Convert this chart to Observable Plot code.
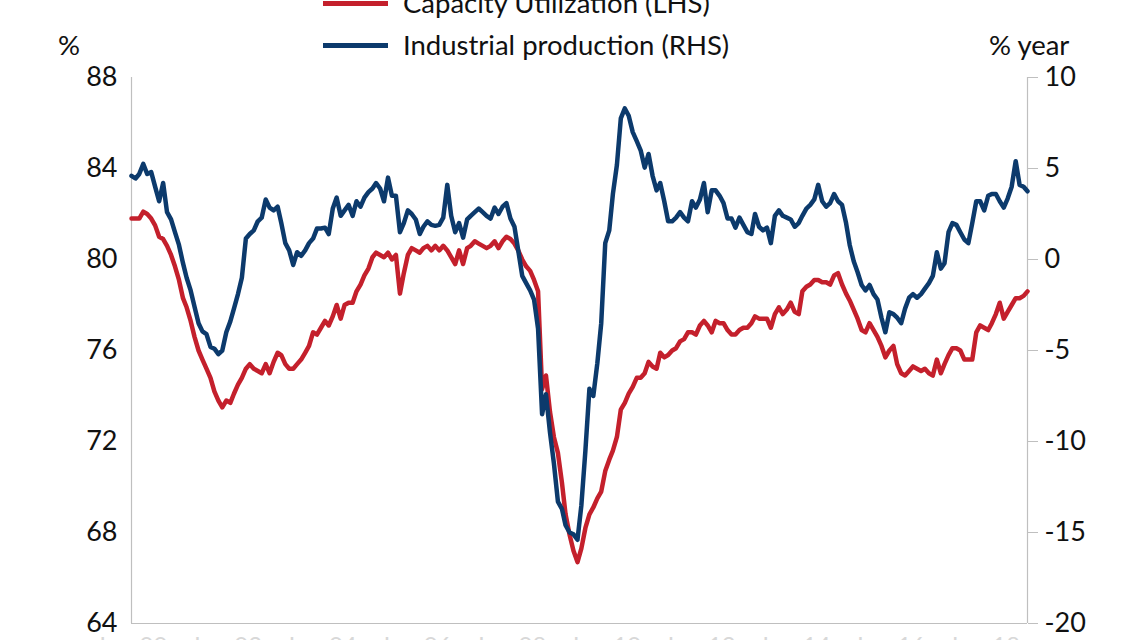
<!DOCTYPE html>
<html>
<head>
<meta charset="utf-8">
<script src="https://cdn.jsdelivr.net/npm/d3@7"></script>
<script src="https://cdn.jsdelivr.net/npm/@observablehq/plot@0.6"></script>
<style>
html, body { margin: 0; padding: 0; background: #fff; overflow: hidden; }
#head { position: relative; height: 60px; font-family: Lato, sans-serif; font-size: 27.5px; color: #111; }
#head .item { position: absolute; left: 323px; display: flex; align-items: center; white-space: nowrap; line-height: 32px; }
#head .sw { display: inline-block; width: 65px; height: 5px; margin-right: 15px; }
#head .unit { position: absolute; white-space: nowrap; line-height: 32px; }
</style>
</head>
<body>
<div id="head"></div>
<div id="chart"></div>
<script>
// ---- data (monthly, Jan 2000 - Dec 2018) ----
const startMonth = "2000-01-01";
const seriesNames = ["Capacity Utilization (LHS)", "Industrial production (RHS)"];
const leftUnit = "%";
const rightUnit = "% year";

// Capacity utilization, % (LHS)
const capacityUtilization = [
  81.8,81.8,81.8,82.1,82.0,81.8,81.5,81.0,80.9,80.6,80.2,79.7,
  79.1,78.3,77.9,77.3,76.6,76.0,75.6,75.2,74.8,74.2,73.8,73.5,
  73.8,73.7,74.1,74.5,74.8,75.2,75.4,75.2,75.1,75.0,75.4,75.0,
  75.5,75.9,75.8,75.4,75.2,75.2,75.4,75.6,75.9,76.2,76.8,76.7,
  77.0,77.3,77.1,77.5,78.0,77.4,78.0,78.1,78.1,78.6,78.9,79.3,
  79.6,80.1,80.3,80.2,80.1,80.3,80.0,80.2,78.5,79.4,80.2,80.5,
  80.4,80.3,80.5,80.6,80.4,80.6,80.4,80.6,80.4,80.1,79.8,80.4,
  79.8,80.5,80.6,80.8,80.7,80.6,80.5,80.6,80.8,80.5,80.8,81.0,
  80.9,80.7,80.4,80.0,79.7,79.5,79.1,78.6,74.3,74.9,73.3,72.2,
  71.5,70.2,68.8,67.9,67.2,66.7,67.3,68.2,68.8,69.1,69.5,69.8,
  70.7,71.2,71.6,72.2,73.4,73.7,74.1,74.4,74.8,74.8,75.0,75.5,
  75.3,75.2,75.9,75.7,75.8,76.0,76.1,76.4,76.5,76.8,76.8,76.7,
  77.1,77.3,77.1,76.8,77.3,77.2,77.2,76.9,76.7,76.7,76.9,77.0,
  77.0,77.2,77.5,77.4,77.4,77.4,77.0,77.6,77.9,77.6,77.8,78.1,
  77.7,77.6,78.6,78.8,78.9,79.1,79.1,79.0,79.0,78.9,79.3,79.4,
  78.9,78.5,78.2,77.8,77.4,76.9,76.8,77.2,76.9,76.6,76.2,75.7,
  76.0,76.2,75.4,75.0,74.9,75.1,75.3,75.2,75.1,75.2,75.0,74.9,
  75.6,75.0,75.4,75.8,76.1,76.1,76.0,75.6,75.6,75.6,76.8,77.1,
  77.0,76.9,77.2,77.6,78.1,77.4,77.7,78.0,78.3,78.3,78.4,78.6
];

// Industrial production, % year (RHS)
const industrialProduction = [
  4.6,4.45,4.7,5.25,4.7,4.8,4.0,3.2,4.2,2.6,2.2,1.5,
  0.8,-0.2,-1.0,-1.7,-2.6,-3.5,-3.95,-4.1,-4.8,-4.9,-5.2,-5.0,
  -4.0,-3.4,-2.7,-1.9,-1.0,1.15,1.4,1.6,2.1,2.3,3.3,2.85,
  2.7,2.9,2.0,0.9,0.5,-0.3,0.4,0.2,0.5,0.9,1.15,1.7,
  1.7,1.75,1.4,2.8,3.4,2.4,2.7,3.0,2.4,3.2,2.9,3.4,
  3.7,3.9,4.2,3.9,3.2,4.5,3.5,3.5,1.5,2.0,2.7,2.5,
  2.2,1.4,1.8,2.1,1.9,1.85,1.9,2.3,4.1,2.4,1.5,2.0,
  1.2,2.2,2.4,2.6,2.8,2.6,2.4,2.25,2.85,2.5,2.9,3.1,
  2.25,1.8,0.5,-0.9,-1.3,-1.7,-2.2,-3.8,-8.5,-7.4,-9.5,-11.2,
  -13.3,-13.7,-14.6,-15.0,-15.1,-15.4,-13.5,-10.5,-7.1,-7.5,-5.7,-3.5,
  0.9,1.6,3.6,5.2,7.75,8.3,7.9,7.0,6.5,6.0,5.05,5.8,
  4.6,3.8,4.2,3.2,2.1,2.1,2.3,2.6,2.3,2.1,3.2,2.85,
  3.3,4.2,2.6,3.8,3.8,3.5,3.1,2.25,2.25,1.75,2.3,1.9,
  1.5,1.4,2.5,1.8,1.6,1.75,0.9,2.4,2.7,2.4,2.3,2.2,
  1.8,2.0,2.4,2.8,3.0,3.3,4.1,3.2,2.9,3.1,3.6,3.2,
  3.0,2.0,0.8,-0.1,-0.7,-1.4,-1.7,-1.4,-1.9,-2.2,-3.2,-4.0,
  -2.9,-3.0,-3.2,-3.5,-2.7,-2.1,-1.9,-2.1,-1.9,-1.6,-1.3,-0.9,
  0.4,-0.5,-0.2,1.5,2.0,1.9,1.5,1.1,0.9,2.0,3.2,3.2,
  2.7,3.5,3.6,3.6,3.2,2.85,3.35,4.0,5.4,4.1,4.0,3.75
];

const leftTicks = [64, 68, 72, 76, 80, 84, 88];
const rightTicks = [-20, -15, -10, -5, 0, 5, 10];
const xTickYears = [2000, 2002, 2004, 2006, 2008, 2010, 2012, 2014, 2016, 2018];

const colors = ["#c4202c", "#0c3a6c"];

// ---- build table ----
const start = new Date(startMonth);
const table = capacityUtilization.map((cu, i) => ({
  date: d3.utcMonth.offset(start, i),
  cu,
  ip: industrialProduction[i]
}));
const end = table[table.length - 1].date;

// RHS (-20..10) mapped onto LHS (64..88): 0 <-> 80, 5 units <-> 4 units
const rhsToLhs = v => 80 + v * 0.8;
const lhsToRhs = v => Math.round((v - 80) * 1.25);
const rightTickPositions = rightTicks.map(rhsToLhs);

// ---- header (legend + unit labels) ----
const head = document.getElementById("head");
[
  { name: seriesNames[0], color: colors[0], top: -13 },
  { name: seriesNames[1], color: colors[1], top: 29 }
].forEach(s => {
  const item = document.createElement("div");
  item.className = "item";
  item.style.top = s.top + "px";
  const sw = document.createElement("span");
  sw.className = "sw";
  sw.style.background = s.color;
  item.appendChild(sw);
  item.appendChild(document.createTextNode(s.name));
  head.appendChild(item);
});
const lu = document.createElement("div");
lu.className = "unit"; lu.style.left = "58px"; lu.style.top = "29px"; lu.textContent = leftUnit;
head.appendChild(lu);
const ru = document.createElement("div");
ru.className = "unit"; ru.style.left = "989px"; ru.style.top = "29px"; ru.textContent = rightUnit;
head.appendChild(ru);

// ---- chart ----
const axisGray = "#bfbfbf";
const chart = Plot.plot({
  width: 1143,
  height: 600,
  marginLeft: 131,
  marginRight: 116,
  marginTop: 17,
  marginBottom: 37,
  style: { fontFamily: "Lato, sans-serif", fontSize: "27px", color: "#111", background: "#fff" },
  x: { type: "utc", domain: [start, end] },
  y: { domain: [64, 88] },
  marks: [
    Plot.ruleX([start], { stroke: axisGray, strokeWidth: 1.2 }),
    Plot.ruleX([end], { stroke: axisGray, strokeWidth: 1.2 }),
    Plot.ruleY([64], { stroke: axisGray, strokeWidth: 1.2 }),
    Plot.axisY({ anchor: "left", ticks: leftTicks, tickSize: 0, tickPadding: 14, label: null, tickFormat: d => String(d) }),
    Plot.axisY({ anchor: "right", ticks: rightTickPositions, tickSize: 10, tickPadding: 7, label: null,
                 stroke: axisGray, tickFormat: d => String(lhsToRhs(d)) }),
    Plot.axisX({ anchor: "bottom", ticks: xTickYears.map(y => new Date(Date.UTC(y, 0, 1))),
                 tickSize: 0, tickPadding: 13, label: null, fill: "#d8d8d8", fontSize: 24,
                 tickFormat: d3.utcFormat("%b-%y") }),
    Plot.line(table, { x: "date", y: "cu", stroke: colors[0], strokeWidth: 4.5, strokeLinejoin: "round" }),
    Plot.line(table, { x: "date", y: d => rhsToLhs(d.ip), stroke: colors[1], strokeWidth: 4.5, strokeLinejoin: "round" })
  ]
});
document.getElementById("chart").appendChild(chart);
</script>
</body>
</html>
